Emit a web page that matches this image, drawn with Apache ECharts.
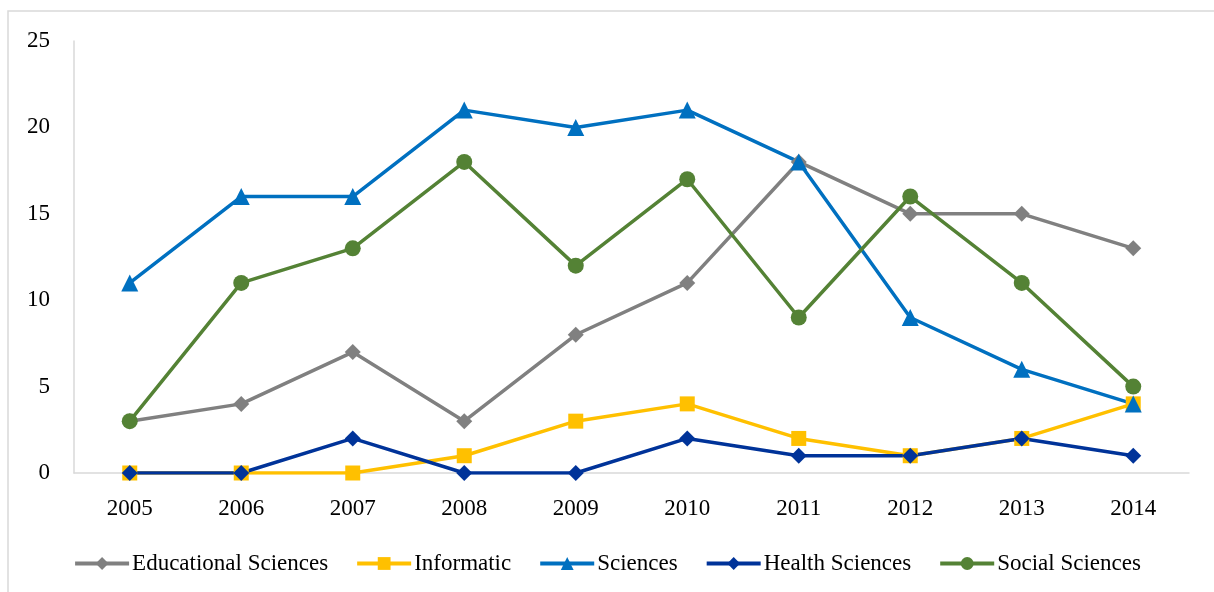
<!DOCTYPE html>
<html>
<head>
<meta charset="utf-8">
<script src="https://cdn.jsdelivr.net/npm/echarts@6/dist/echarts.min.js"></script>
<style>
  html, body { margin: 0; padding: 0; background: #fff; }
  #chart { width: 1214px; height: 592px; }
</style>
</head>
<body>
<div id="chart"></div>
<script>
const years = ['2005', '2006', '2007', '2008', '2009', '2010', '2011', '2012', '2013', '2014']
const educational = [3, 4, 7, 3, 8, 11, 18, 15, 15, 13]
const informatic = [0, 0, 0, 1, 3, 4, 2, 1, 2, 4]
const sciences = [11, 16, 16, 21, 20, 21, 18, 9, 6, 4]
const health = [0, 0, 2, 0, 0, 2, 1, 1, 2, 1]
const social = [3, 11, 13, 18, 12, 17, 9, 16, 11, 5]

const font = '"Liberation Serif", "DejaVu Serif", serif'

const mkSeries = (name, data, color, symbol, size) => ({
  name,
  type: 'line',
  data,
  symbol,
  symbolSize: size,
  lineStyle: { color, width: 3.5 },
  itemStyle: { color },
  emphasis: { disabled: true }
})

const chart = echarts.init(document.getElementById('chart'))
chart.setOption({
  animation: false,
  graphic: [{
    type: 'rect',
    shape: { x: 8, y: 11, width: 1230, height: 620 },
    style: { fill: 'none', stroke: '#d9d9d9', lineWidth: 1.5 },
    silent: true
  }],
  grid: { left: 74, right: 25, top: 41, bottom: 119 },
  legend: {
    bottom: 12,
    left: 'center',
    itemWidth: 54,
    itemHeight: 16,
    itemGap: 27,
    lineStyle: { width: 4 },
    textStyle: { fontFamily: font, fontSize: 23, color: '#000', padding: [0, 0, 0, -2] },
    data: ['Educational Sciences', 'Informatic', 'Sciences', 'Health Sciences', 'Social Sciences']
  },
  xAxis: {
    type: 'category',
    data: years,
    boundaryGap: true,
    axisLine: { lineStyle: { color: '#d9d9d9', width: 1.5 } },
    axisTick: { show: false },
    axisLabel: { fontFamily: font, fontSize: 23, color: '#000', margin: 24 }
  },
  yAxis: {
    type: 'value',
    min: 0,
    max: 25,
    interval: 5,
    splitLine: { show: false },
    axisLine: { show: true, lineStyle: { color: '#d9d9d9', width: 1.5 } },
    axisTick: { show: false },
    axisLabel: { fontFamily: font, fontSize: 23, color: '#000', margin: 24 }
  },
  series: [
    mkSeries('Educational Sciences', educational, '#808080', 'diamond', 16),
    mkSeries('Informatic', informatic, '#ffc000', 'rect', 15),
    mkSeries('Sciences', sciences, '#0070c0', 'triangle', 17),
    mkSeries('Health Sciences', health, '#003399', 'diamond', 16),
    mkSeries('Social Sciences', social, '#548235', 'circle', 16)
  ]
})
</script>
</body>
</html>
